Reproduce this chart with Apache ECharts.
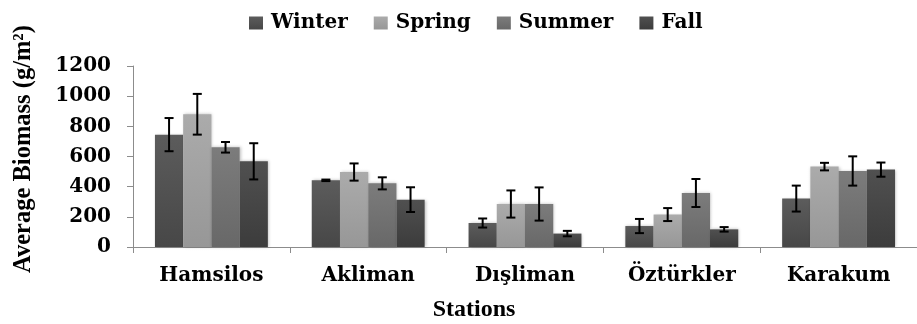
<!DOCTYPE html>
<html>
<head>
<meta charset="utf-8">
<script src="https://cdn.jsdelivr.net/npm/echarts@6/dist/echarts.min.js"></script>
<style>
html,body{margin:0;padding:0;background:#fff;}
#chart{width:917px;height:324px;}
</style>
</head>
<body>
<div id="chart"></div>
<script>
// Stations along the x axis
const stations = ['Hamsilos', 'Akliman', 'Dışliman', 'Öztürkler', 'Karakum'];
// Mean biomass per season (g/m²)
const winter = [745, 442, 159, 139, 321];
const spring = [880, 497, 285, 215, 533];
const summer = [661, 422, 285, 358, 504];
const fall   = [568, 314, 89, 117, 513];
// Error bar half-lengths (g/m²)
const winterErr = [110, 5, 30, 47, 86];
const springErr = [135, 57, 90, 43, 25];
const summerErr = [35, 40, 110, 93, 97];
const fallErr   = [120, 82, 18, 15, 47];
// Y axis ticks
const yTicks = [0, 200, 400, 600, 800, 1000, 1200];

const seasons = [
  { name: 'Winter', values: winter, errs: winterErr, top: '#5c5c5c', bottom: '#474747' },
  { name: 'Spring', values: spring, errs: springErr, top: '#ababab', bottom: '#979797' },
  { name: 'Summer', values: summer, errs: summerErr, top: '#7c7c7c', bottom: '#686868' },
  { name: 'Fall',   values: fall,   errs: fallErr,   top: '#505050', bottom: '#3c3c3c' }
];

const CAT_GAP = 0.28;
const labelFont = '"DejaVu Serif", serif';
const titleFont = '"Liberation Serif", "Times New Roman", serif';

function gradient(top, bottom) {
  return new echarts.graphic.LinearGradient(0, 0, 0, 1, [
    { offset: 0, color: top },
    { offset: 1, color: bottom }
  ]);
}

const barSeries = seasons.map(s => ({
  name: s.name,
  type: 'bar',
  data: s.values,
  barGap: 0,
  barCategoryGap: (CAT_GAP * 100) + '%',
  itemStyle: {
    color: gradient(s.top, s.bottom),
    shadowBlur: 3,
    shadowColor: 'rgba(0,0,0,0.25)',
    shadowOffsetX: 1
  },
  emphasis: { disabled: true }
}));

const errSeries = seasons.map((s, si) => ({
  name: s.name + ' error',
  type: 'custom',
  z: 5,
  data: s.values.map((v, i) => [i, v, s.errs[i]]),
  encode: { x: 0, y: 1 },
  renderItem: function (params, api) {
    const ci = api.value(0);
    const v = api.value(1);
    const e = api.value(2);
    const band = api.size([1, 0])[0];
    const bw = band * (1 - CAT_GAP) / seasons.length;
    const cx = api.coord([ci, v])[0] + (si - (seasons.length - 1) / 2) * bw;
    const yHi = api.coord([ci, v + e])[1];
    const yLo = api.coord([ci, v - e])[1];
    const half = 4.5;
    const st = { stroke: '#000', lineWidth: 2 };
    return {
      type: 'group',
      children: [
        { type: 'line', shape: { x1: cx, y1: yHi, x2: cx, y2: yLo }, style: st },
        { type: 'line', shape: { x1: cx - half, y1: yHi, x2: cx + half, y2: yHi }, style: st },
        { type: 'line', shape: { x1: cx - half, y1: yLo, x2: cx + half, y2: yLo }, style: st }
      ]
    };
  }
}));

const chart = echarts.init(document.getElementById('chart'), null, { renderer: 'canvas' });
chart.setOption({
  animation: false,
  backgroundColor: '#fff',
  graphic: [
    {
      // x axis title
      type: 'text',
      x: 474,
      y: 310,
      style: {
        text: 'Stations',
        font: 'bold 24px ' + titleFont,
        fill: '#000',
        textAlign: 'center',
        textVerticalAlign: 'middle'
      }
    },
    {
      // y axis title, rotated
      type: 'text',
      x: 24,
      y: 149,
      rotation: Math.PI / 2,
      style: {
        text: 'Average Biomass (g/m²)',
        font: 'bold 24.5px ' + titleFont,
        fill: '#000',
        textAlign: 'center',
        textVerticalAlign: 'middle'
      }
    }
  ],
  legend: {
    data: seasons.map(s => s.name),
    left: 244,
    top: 8,
    itemWidth: 14,
    itemHeight: 13,
    itemGap: 26,
    icon: 'rect',
    textStyle: { fontFamily: labelFont, fontWeight: 'bold', fontSize: 20, color: '#000', padding: [0, 0, 0, 3] }
  },
  grid: { left: 133, right: -18, top: 66, bottom: 77, containLabel: false },
  xAxis: {
    type: 'category',
    data: stations,
    axisLine: { lineStyle: { color: '#8c8c8c', width: 1 } },
    axisTick: { show: true, length: 6, lineStyle: { color: '#8c8c8c' } },
    axisLabel: { fontFamily: labelFont, fontWeight: 'bold', fontSize: 20, color: '#000', margin: 19 }
  },
  yAxis: {
    type: 'value',
    min: yTicks[0],
    max: yTicks[yTicks.length - 1],
    interval: yTicks[1] - yTicks[0],
    splitLine: { show: false },
    axisLine: { show: true, lineStyle: { color: '#8c8c8c', width: 1 } },
    axisTick: { show: true, length: 6, lineStyle: { color: '#8c8c8c' } },
    axisLabel: {
      fontFamily: labelFont, fontWeight: 'bold', fontSize: 20, color: '#000', margin: 22,
      formatter: v => String(v)
    }
  },
  series: barSeries.concat(errSeries)
});
</script>
</body>
</html>
